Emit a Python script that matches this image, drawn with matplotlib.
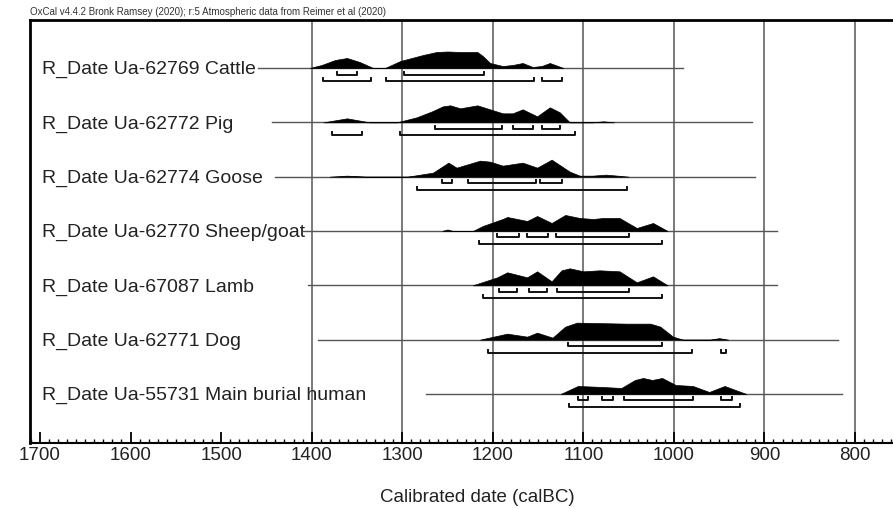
import matplotlib
matplotlib.use("Agg")
import matplotlib.pyplot as plt
from matplotlib.ticker import MultipleLocator, FixedLocator

plt.rcParams['font.family'] = ['Liberation Sans', 'DejaVu Sans']

title = "OxCal v4.4.2 Bronk Ramsey (2020); r:5 Atmospheric data from Reimer et al (2020)"
xlabel = "Calibrated date (calBC)"

labels = [
    "R_Date Ua-62769 Cattle",
    "R_Date Ua-62772 Pig",
    "R_Date Ua-62774 Goose",
    "R_Date Ua-62770 Sheep/goat",
    "R_Date Ua-67087 Lamb",
    "R_Date Ua-62771 Dog",
    "R_Date Ua-55731 Main burial human",
]

# extent of each row's baseline (calBC, from -> to)
baselines = [(1459, 990), (1444, 914), (1441, 910), (1410, 886), (1404, 886), (1393, 819), (1274, 814)]

# probability density outlines: (year calBC, relative height)
cattle_pdf = [(1402, 0), (1389, 3), (1374, 8), (1361, 10), (1347, 6), (1332, 0), (1319, 0), (1302, 7),
              (1277, 13), (1262, 16), (1250, 16.5), (1235, 16), (1217, 16), (1211, 12), (1203, 5), (1189, 2),
              (1178, 3), (1167, 5), (1156, 1), (1146, 2), (1137, 5), (1122, 0)]
pig_pdf = [(1387, 0), (1361, 4), (1336, 0), (1306, 0), (1284, 5), (1267, 11), (1255, 16), (1247, 17),
           (1236, 14), (1217, 17), (1203, 13), (1189, 9), (1178, 9), (1167, 13), (1151, 6), (1137, 15),
           (1126, 10), (1115, 0), (1090, 0), (1078, 1), (1066, 0)]
goose_pdf = [(1380, 0), (1361, 1), (1340, 0), (1294, 0), (1266, 4), (1249, 14), (1240, 9), (1214, 16),
             (1203, 15), (1189, 11), (1167, 14), (1151, 9), (1135, 17), (1115, 5), (1104, 1), (1090, 1),
             (1075, 2), (1062, 1), (1050, 0)]
sheep_pdf = [(1256, 0), (1250, 1.5), (1244, 0), (1222, 0), (1211, 5), (1189, 12), (1184, 14), (1162, 10),
             (1151, 15), (1135, 8), (1120, 16), (1104, 13), (1089, 12), (1078, 13), (1060, 13), (1041, 3),
             (1023, 8), (1007, 0)]
lamb_pdf = [(1222, 0), (1195, 8), (1184, 13), (1162, 8), (1151, 14), (1135, 4), (1124, 15), (1115, 17),
            (1100, 14), (1082, 15), (1060, 14), (1041, 3), (1023, 9), (1007, 0)]
dog_pdf = [(1214, 0), (1184, 6), (1162, 3), (1151, 7), (1134, 2), (1120, 13), (1107, 17), (1080, 16.5),
           (1052, 16), (1026, 16), (1015, 13), (1001, 3), (990, 0), (960, 0), (950, 1.5), (940, 0)]
human_pdf = [(1125, 0), (1106, 8), (1079, 7), (1058, 6), (1043, 14), (1034, 16), (1024, 14), (1013, 16),
             (998, 9), (979, 8), (961, 2), (944, 8), (920, 0)]
pdfs = [cattle_pdf, pig_pdf, goose_pdf, sheep_pdf, lamb_pdf, dog_pdf, human_pdf]

# highest posterior density ranges
range68 = [
    [(1372, 1350), (1298, 1210)],
    [(1264, 1190), (1178, 1156), (1146, 1126)],
    [(1256, 1245), (1227, 1152), (1148, 1124)],
    [(1195, 1171), (1162, 1139), (1130, 1050)],
    [(1193, 1173), (1160, 1140), (1129, 1050)],
    [(1117, 1013)],
    [(1106, 1095), (1079, 1067), (1055, 979), (948, 936)],
]
range95 = [
    [(1387, 1334), (1318, 1154), (1146, 1124)],
    [(1378, 1344), (1302, 1109)],
    [(1284, 1052)],
    [(1215, 1013)],
    [(1211, 1013)],
    [(1205, 980), (948, 942)],
    [(1116, 927)],
]

major_ticks = [1700, 1600, 1500, 1400, 1300, 1200, 1100, 1000, 900, 800]
grid_years = [1400, 1300, 1200, 1100, 1000, 900, 800]

# ---------------- drawing ----------------
W, H = 893, 509
fig = plt.figure(figsize=(W / 100, H / 100), dpi=100)
px_per_year = 0.9056
left_px, top_px, bot_px = 30, 20, 443
ax = fig.add_axes([left_px / W, (H - bot_px) / H, 1.0, (bot_px - top_px) / H])
row_px = 54.33
x_left = 1711
ax.set_xlim(x_left, x_left - (W) / px_per_year)
first_row_px = 68
ax.set_ylim((bot_px - first_row_px) / row_px, (top_px - first_row_px) / row_px)

hs = 1.0 / row_px  # one pixel in row units

for g in grid_years:
    ax.axvline(g, color='#7a7a7a', lw=1.4, zorder=1)

for i, lab in enumerate(labels):
    y = i
    x0, x1 = baselines[i]
    ax.plot([x0, x1], [y, y], color='#555555', lw=1.0, zorder=2)
    xs = [p[0] for p in pdfs[i]]
    hv = [y - p[1] * hs for p in pdfs[i]]
    ax.fill_between(xs, [y] * len(xs), hv, color='black', lw=0.5, zorder=3)
    for (a, b) in range68[i]:
        yy = y + 6.5 * hs
        ax.plot([a, a, b, b], [yy - 3 * hs, yy, yy, yy - 3 * hs], color='#111111', lw=1.4, zorder=3)
    for (a, b) in range95[i]:
        yy = y + 13 * hs
        ax.plot([a, a, b, b], [yy - 3 * hs, yy, yy, yy - 3 * hs], color='#111111', lw=1.4, zorder=3)
    ax.text(1698, y + 0.03, lab, fontsize=14, color='#222222', va='center', ha='left', zorder=4)

ax.xaxis.set_major_locator(FixedLocator(major_ticks))
ax.xaxis.set_minor_locator(MultipleLocator(10))
ax.tick_params(axis='x', which='major', direction='in', length=8, width=1.3, labelsize=13.5,
               labelcolor='#222222', pad=3)
ax.tick_params(axis='x', which='minor', direction='in', length=3, width=1.0)
ax.set_yticks([])
ax.set_xlabel(xlabel, fontsize=13.5, color='#222222', labelpad=18)
ax.xaxis.label.set_x((477 - left_px) / W)

for s in ['top', 'left']:
    ax.spines[s].set_linewidth(2.0)
ax.spines['bottom'].set_linewidth(1.5)
ax.spines['right'].set_visible(False)

fig.text(left_px / W, 1 - 12 / H, title, fontsize=7, color='#333333', va='center', ha='left')

fig.savefig('out.png', dpi=100)
